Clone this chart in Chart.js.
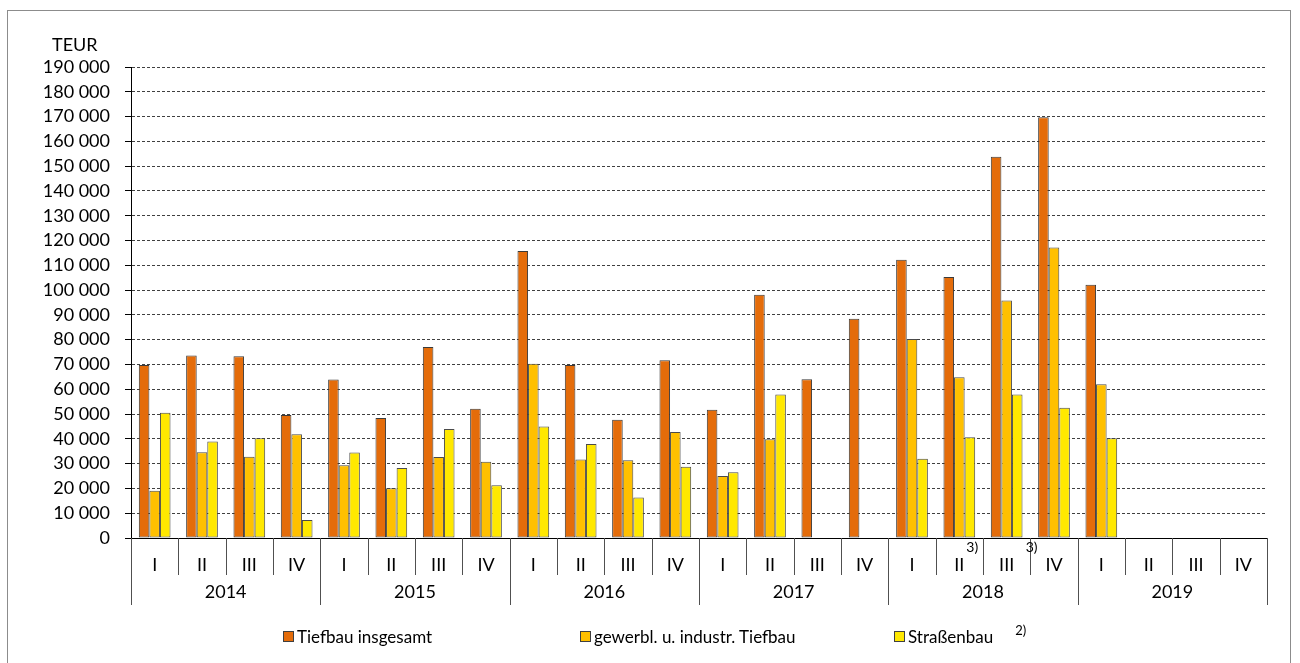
<!DOCTYPE html>
<html>
<head>
<meta charset="utf-8">
<script src="https://cdn.jsdelivr.net/npm/chart.js@4"></script>
<style>
  body { margin: 0; background: #fff; font-family: Lato, sans-serif; }
  #wrap { position: relative; width: 1300px; height: 663px; }
  #frame { position: absolute; left: 7px; top: 10px; width: 1284px; height: 660px; border: 1px solid #8c8c8c; box-sizing: border-box; }
  #legend { position: absolute; top: 624px; left: 0; width: 1300px; height: 24px; font-size: 17px; color: #000; }
  #legend .item { position: absolute; top: 0; height: 24px; white-space: nowrap; display: flex; align-items: center; }
  #legend .box { width: 9px; height: 9px; border: 1px solid #404040; margin-right: 3px; }
  #legend .fn { font-size: 13px; margin-left: 22px; position: relative; top: -6px; }
</style>
</head>
<body>
<div id="wrap">
  <div id="frame"></div>
  <canvas id="myChart" width="1300" height="663"></canvas>
  <div id="legend"></div>
</div>
<script>
var years = ["2014", "2015", "2016", "2017", "2018", "2019"];
var quarters = ["I", "II", "III", "IV"];
var seriesNames = ["Tiefbau insgesamt", "gewerbl. u. industr. Tiefbau", "Straßenbau"];
var tiefbauInsgesamt = [69800, 73600, 73300, 49600, 63900, 48400, 77000, 52100, 115800, 69800, 47700, 71700, 51700, 98100, 64000, 88400, 112200, 105300, 153800, 169700, 102200, null, null, null];
var gewerblTiefbau = [19100, 34600, 32800, 41900, 29300, 20100, 32700, 30800, 70300, 31700, 31400, 42800, 25000, 39800, null, null, 80300, 64800, 95800, 117200, 62000, null, null, null];
var strassenbau = [50500, 38900, 40200, 7300, 34500, 28200, 44000, 21300, 45000, 37900, 16300, 28700, 26500, 57900, null, null, 32000, 40600, 57900, 52500, 40200, null, null, null];
var colors = ['#E46C0A', '#FFC000', '#FFE800'];

var labels = [];
years.forEach(function (y) { quarters.forEach(function (q) { labels.push(q); }); });

function fmt(v) {
  return String(v).replace(/\B(?=(\d{3})+(?!\d))/g, ' ');
}

// Jahresachse, Trennstriche und Fußnoten
var axisExtras = {
  id: 'axisExtras',
  afterDraw: function (chart) {
    var ctx = chart.ctx;
    var x = chart.scales.x;
    var base = chart.chartArea.bottom;
    var n = labels.length;
    function edge(i) {
      if (i === 0) return x.left;
      if (i === n) return x.right;
      return (x.getPixelForValue(i - 1) + x.getPixelForValue(i)) / 2;
    }
    ctx.save();
    ctx.strokeStyle = '#505050';
    ctx.lineWidth = 1;
    for (var i = 0; i <= n; i++) {
      var px = Math.round(edge(i)) + 0.5;
      ctx.beginPath();
      ctx.moveTo(px, base);
      ctx.lineTo(px, i % 4 === 0 ? base + 67 : base + 37);
      ctx.stroke();
    }
    ctx.fillStyle = '#000';
    ctx.font = '18px Lato';
    ctx.textAlign = 'center';
    ctx.textBaseline = 'middle';
    years.forEach(function (y, k) {
      ctx.fillText(y, (edge(k * 4) + edge(k * 4 + 4)) / 2, base + 54);
    });
    // Fußnoten 3)
    ctx.font = '14px Lato';
    ctx.textAlign = 'left';
    ctx.fillText('3)', x.getPixelForValue(17) + 7, base + 9);
    ctx.fillText('3)', x.getPixelForValue(18) + 19, base + 9);
    // Einheit
    ctx.font = '18px Lato';
    ctx.fillText('TEUR', 52, 45);
    ctx.restore();
  }
};

var ctx = document.getElementById("myChart").getContext('2d');
var myChart = new Chart(ctx, {
  type: 'bar',
  data: {
    labels: labels,
    datasets: [{
      label: seriesNames[0],
      data: tiefbauInsgesamt,
      backgroundColor: colors[0],
      borderColor: '#3a3a3a',
      borderWidth: 1,
      borderSkipped: false
    }, {
      label: seriesNames[1],
      data: gewerblTiefbau,
      backgroundColor: colors[1],
      borderColor: '#4a4a4a',
      borderWidth: 1,
      borderSkipped: false
    }, {
      label: seriesNames[2],
      data: strassenbau,
      backgroundColor: colors[2],
      borderColor: '#4a4a4a',
      borderWidth: 1,
      borderSkipped: false
    }]
  },
  options: {
    responsive: false,
    animation: false,
    layout: { padding: { top: 67, right: 33, left: 0, bottom: 0 } },
    datasets: { bar: { categoryPercentage: 0.67, barPercentage: 1.0 } },
    plugins: { legend: { display: false }, tooltip: { enabled: false } },
    scales: {
      x: {
        grid: { display: false },
        border: { display: true, color: '#000', width: 1 },
        ticks: { color: '#000', font: { family: 'Lato', size: 18 }, padding: 8, maxRotation: 0, autoSkip: false },
        afterFit: function (s) { s.height = 125; }
      },
      y: {
        min: 0,
        max: 190000,
        ticks: { stepSize: 10000, color: '#000', font: { family: 'Lato', size: 18 }, padding: 15, callback: function (v) { return fmt(v); } },
        grid: {
          color: '#404040',
          lineWidth: 1,
          tickLength: 6,
          tickColor: '#000',
          tickBorderDash: [],
          drawTicks: true
        },
        border: { display: true, color: '#000', width: 1, dash: [3, 2] },
        afterFit: function (s) { s.width = 131; }
      }
    }
  },
  plugins: [axisExtras]
});

// Legende
var legend = document.getElementById('legend');
var legendLeft = [283, 580, 894];
seriesNames.forEach(function (name, i) {
  var item = document.createElement('div');
  item.className = 'item';
  item.style.left = legendLeft[i] + 'px';
  item.innerHTML = '<span class="box" style="background:' + colors[i] + '"></span><span>' + name + '</span>' + (i === 2 ? '<span class="fn">2)</span>' : '');
  legend.appendChild(item);
});
</script>
</body>
</html>
